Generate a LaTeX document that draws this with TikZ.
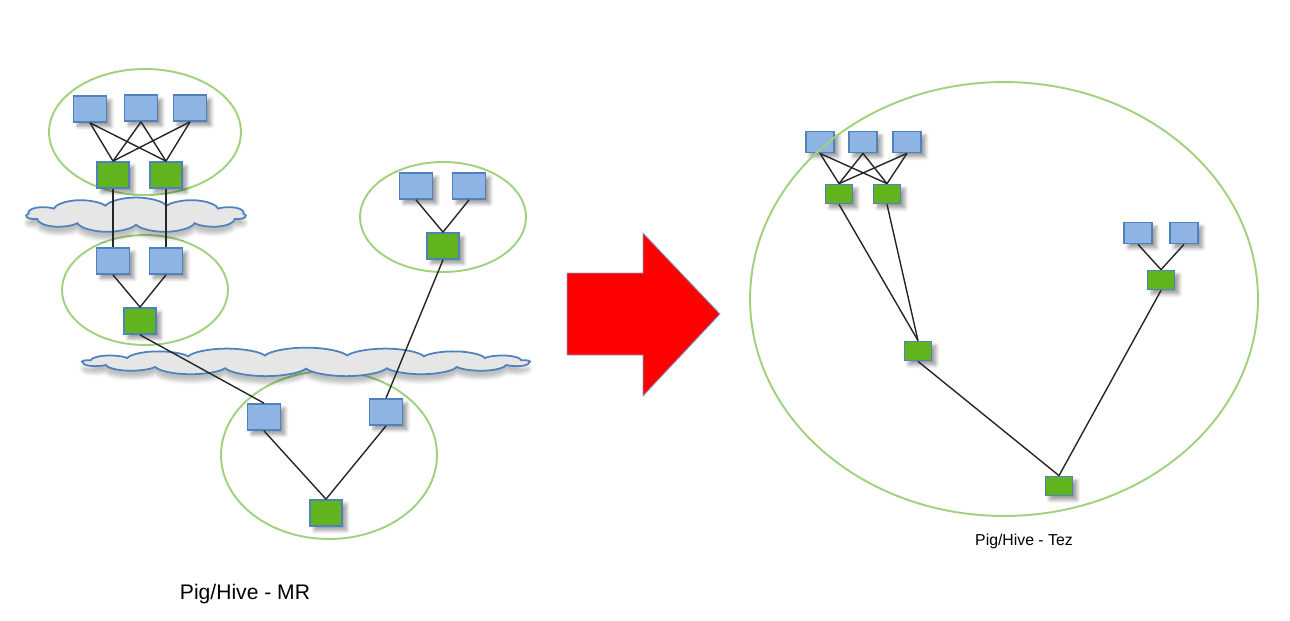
\documentclass[tikz,border=0pt]{standalone}
\usepackage{fontspec}
\setmainfont{Liberation Sans}
\usetikzlibrary{shapes.symbols}
\usetikzlibrary{shadows.blur}
\definecolor{boxblue}{RGB}{141,180,226}
\definecolor{edgeblue}{RGB}{79,129,189}
\definecolor{boxgreen}{RGB}{98,180,30}
\definecolor{ringgreen}{RGB}{160,210,125}
\definecolor{cloudgray}{RGB}{230,230,230}
\definecolor{arrowred}{RGB}{255,0,0}

\begin{document}
\begin{tikzpicture}[x=0.02cm,y=-0.02cm,
    task/.style={draw=edgeblue,line width=1pt,inner sep=0pt,
      blur shadow={shadow xshift=2.5pt,shadow yshift=-2.5pt,shadow blur steps=6}},
    mapbox/.style={task,fill=boxblue,minimum width=0.66cm,minimum height=0.52cm},
    redbox/.style={task,fill=boxgreen,minimum width=0.64cm,minimum height=0.52cm},
    smallmap/.style={task,fill=boxblue,minimum width=0.56cm,minimum height=0.42cm},
    smallred/.style={task,fill=boxgreen,minimum width=0.54cm,minimum height=0.38cm},
    ring/.style={draw=ringgreen,line width=1.1pt},
    hdfs/.style={cloud,cloud ignores aspect,draw=edgeblue,line width=1pt,
      fill=cloudgray,inner sep=0pt,transform shape,
      blur shadow={shadow xshift=0pt,shadow yshift=-4pt,shadow opacity=25}},
    link/.style={draw=black!85,line width=0.8pt}]
  \useasboundingbox (0,0) rectangle (1290,620);

  % MR side
  \draw[ring] (145,132) ellipse [x radius=1.92cm, y radius=1.26cm];
  \draw[ring] (145,290) ellipse [x radius=1.66cm, y radius=1.10cm];
  \draw[ring] (443,217) ellipse [x radius=1.66cm, y radius=1.10cm];
  \draw[ring] (329,455) ellipse [x radius=2.16cm, y radius=1.68cm];
  \node[hdfs,cloud puffs=11,minimum width=4.4cm,minimum height=2cm,yscale=0.35] (cloudA) at (136,215) {};
  \node[hdfs,cloud puffs=17,minimum width=8.95cm,minimum height=2.3cm,yscale=0.25] (cloudB) at (306,362) {};

  \node[mapbox] (m1) at (90,109) {};
  \node[mapbox] (m2) at (141,108) {};
  \node[mapbox] (m3) at (190,108) {};
  \node[redbox] (r1) at (113,175) {};
  \node[redbox] (r2) at (166,175) {};
  \node[mapbox] (m4) at (113,261) {};
  \node[mapbox] (m5) at (166,261) {};
  \node[redbox] (r3) at (140,321) {};
  \node[mapbox] (m6) at (416,186) {};
  \node[mapbox] (m7) at (469,186) {};
  \node[redbox] (r4) at (443,246) {};
  \node[mapbox] (m8) at (264,417) {};
  \node[mapbox] (m9) at (386,412) {};
  \node[redbox] (r5) at (326,513) {};

  \foreach \m in {m1,m2,m3}
    \foreach \r in {r1,r2}
      \draw[link] (\m.south) -- (\r.north);
  \draw[link] (r1.south) -- (m4.north);
  \draw[link] (r2.south) -- (m5.north);
  \draw[link] (m4.south) -- (r3.north);
  \draw[link] (m5.south) -- (r3.north);
  \draw[link] (m6.south) -- (r4.north);
  \draw[link] (m7.south) -- (r4.north);
  \draw[link] (r3.south) -- (m8.north);
  \draw[link] (r4.south) -- (m9.north);
  \draw[link] (m8.south) -- (r5.north);
  \draw[link] (m9.south) -- (r5.north);

  \node[font=\fontsize{12}{14}\selectfont] (mrlabel) at (245,594) {Pig/Hive - MR};

  % the big arrow
  \filldraw[fill=arrowred,draw=edgeblue!70,line width=0.5pt]
    (567,273) -- (643,273) -- (643,233) -- (720,314) -- (643,396) -- (643,355) -- (567,355) -- cycle;

  % Tez side
  \node[smallmap] (t1) at (820,142) {};
  \node[smallmap] (t2) at (863,142) {};
  \node[smallmap] (t3) at (907,142) {};
  \node[smallred] (u1) at (839,194) {};
  \node[smallred] (u2) at (887,194) {};
  \node[smallmap] (t4) at (1138,233) {};
  \node[smallmap] (t5) at (1184,233) {};
  \node[smallred] (u3) at (1161,280) {};
  \node[smallred] (u4) at (918,351) {};
  \node[smallred] (u5) at (1059,486) {};

  \foreach \t in {t1,t2,t3}
    \foreach \u in {u1,u2}
      \draw[link] (\t.south) -- (\u.north);
  \draw[link] (t4.south) -- (u3.north);
  \draw[link] (t5.south) -- (u3.north);
  \draw[link] (u1.south) -- (u4.north);
  \draw[link] (u2.south) -- (u4.north);
  \draw[link] (u4.south) -- (u5.north);
  \draw[link] (u3.south) -- (u5.north);
  \draw[ring] (1004,299) ellipse [x radius=5.08cm, y radius=4.34cm];

  \node[font=\fontsize{9}{11}\selectfont] (tezlabel) at (1024,541) {Pig/Hive - Tez};
\end{tikzpicture}
\end{document}
